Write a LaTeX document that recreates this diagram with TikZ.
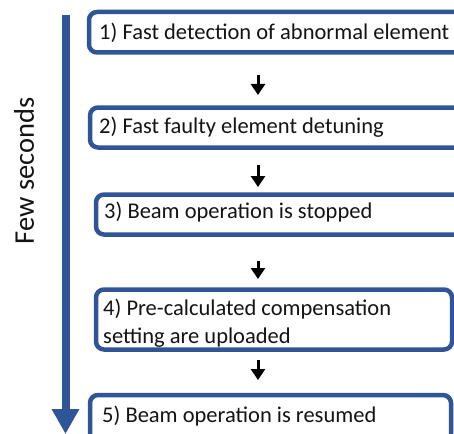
\documentclass[tikz,border=0pt]{standalone}
\usepackage{fontspec}
\setmainfont{Carlito}
\usetikzlibrary{arrows.meta}
\definecolor{pblue}{RGB}{47,85,151}
\definecolor{txt}{RGB}{20,20,20}
\begin{document}
\begin{tikzpicture}[x=1pt,y=-1pt,
  box/.style={draw=pblue, line width=4.5pt, rounded corners=8pt, fill=white, outer sep=0pt, inner sep=0pt, anchor=north west},
  lbl/.style={anchor=base west, inner sep=0pt, text=txt, font=\fontsize{22.5}{26}\selectfont},
  flow/.style={line width=3pt, -{Triangle[width=14pt,length=11pt]}},
  timeline/.style={draw=pblue, line width=8pt, -{Triangle[width=26pt,length=25pt]}}]
\clip (0,0) rectangle (454,433);
\fill[white] (0,0) rectangle (454,433);
% time axis
\coordinate (tstart) at (65.5,15);
\coordinate (tend) at (65.5,434);
\draw[timeline] (tstart) -- (tend);
\node[rotate=90, inner sep=0pt, text=txt, font=\fontsize{28.5}{34}\selectfont] (few) at (24,171) {Few seconds};
% boxes
\node[box, minimum width=391pt, minimum height=40.5pt] (b1) at (89,12) {};
\node[box, minimum width=390pt, minimum height=40pt] (b2) at (90,107.5) {};
\node[box, minimum width=384pt, minimum height=40pt] (b3) at (96,194.5) {};
\node[box, minimum width=356pt, minimum height=60pt] (b4) at (96,289.5) {};
\node[box, minimum width=361pt, minimum height=60pt] (b5) at (90,395) {};
% texts
\node[lbl] (t1) at (99,40) {1) Fast detection of abnormal element};
\node[lbl] (t2) at (99,133) {2) Fast faulty element detuning};
\node[lbl] (t3) at (104,218) {3) Beam operation is stopped};
\node[lbl] (t4a) at (103,315) {4) Pre-calculated compensation};
\node[lbl] (t4b) at (103,343) {setting are uploaded};
\node[lbl] (t5) at (102,422) {5) Beam operation is resumed};
% flow arrows
\coordinate (a1s) at (258,75);  \coordinate (a1e) at (258,95);
\coordinate (a2s) at (258,165); \coordinate (a2e) at (258,187);
\coordinate (a3s) at (258,261); \coordinate (a3e) at (258,279);
\coordinate (a4s) at (258,360); \coordinate (a4e) at (258,380);
\draw[flow] (a1s) -- (a1e);
\draw[flow] (a2s) -- (a2e);
\draw[flow] (a3s) -- (a3e);
\draw[flow] (a4s) -- (a4e);
\end{tikzpicture}
\end{document}
